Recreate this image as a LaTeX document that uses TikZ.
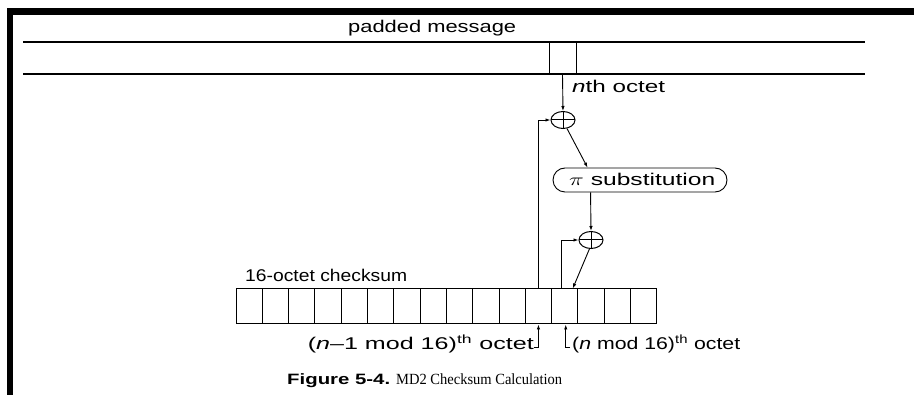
\documentclass[tikz,border=0pt]{standalone}
\usepackage{fontspec}
\setmainfont{Liberation Sans}
\newfontfamily\capserif{Liberation Serif}
\usetikzlibrary{arrows.meta,shapes.geometric,calc}
\newcommand\fitw[2]{\resizebox{#1}{\height}{#2}}
\tikzset{
  ln/.style={line width=1.1pt},
  conn/.style={line width=0.9pt,-{Latex[length=5pt,width=3.5pt]}},
  txt/.style={inner sep=0pt,font=\fontsize{17}{20}\selectfont},
  xorsym/.style={ellipse,draw,line width=1pt,inner sep=0pt,minimum width=24pt,minimum height=17pt,
    path picture={\draw[line width=1pt] (path picture bounding box.north) -- (path picture bounding box.south)
      (path picture bounding box.west) -- (path picture bounding box.east);}},
  cell/.style={rectangle,draw,line width=1pt,inner sep=0pt,minimum width=26.3pt,minimum height=35pt},
  subst/.style={rectangle,draw,line width=0.9pt,rounded corners=12pt,inner sep=0pt,minimum width=174pt,minimum height=24pt},
}
\begin{document}
\begin{tikzpicture}[x=1pt,y=-1pt]
\useasboundingbox (0,0) rectangle (914,395);
% frame
\fill[black] (7,8) rectangle (914,15);
\fill[black] (7,8) rectangle (13,395);
% padded message
\coordinate (mtl) at (23,42);
\coordinate (mtr) at (865,42);
\coordinate (mbl) at (23,74);
\coordinate (mbr) at (865,74);
\draw[ln] (mtl) -- (mtr);
\draw[ln] (mbl) -- (mbr);
\node[rectangle,draw,line width=1pt,inner sep=0pt,minimum width=27pt,minimum height=32pt] (oct) at (562.5,58) {};
\node[txt,anchor=base west] (pm) at (348,33) {\fitw{168pt}{padded message}};
\node[txt,anchor=base west] (nth) at (572,93) {\fitw{93pt}{\textit{n}th octet}};
% xor 1
\node[xorsym] (x1) at (563,120) {};
% substitution
\node[subst] (pi) at (640,180) {};
\node[txt,anchor=base west] (pit) at (569,186) {\fitw{146pt}{$\pi$ substitution}};
% xor 2
\node[xorsym] (x2) at (591,240) {};
% checksum
\foreach \i in {1,...,16} {
  \node[cell] (c\i) at ({236+26.3*(\i-0.5)},306.5) {};
}
\node[txt,anchor=base west] (cs) at (245,282) {\fitw{162pt}{16-octet checksum}};
% labels
\node[txt,anchor=base east] (l1) at (534,350) {\fitw{226pt}{(\textit{n}–1 mod 16)\textsuperscript{th} octet}};
\node[txt,anchor=base west] (l2) at (572,350) {\fitw{168pt}{(\textit{n} mod 16)\textsuperscript{th} octet}};
% caption
\node[inner sep=0pt,anchor=base west] (fig) at (287,385) {\fitw{103pt}{\fontsize{15}{18}\selectfont\bfseries Figure 5-4.}};
\node[inner sep=0pt,anchor=base west] (cap) at (396,385) {\fitw{166pt}{\fontsize{15.5}{18}\selectfont\capserif MD2 Checksum Calculation}};
% connectors
\draw[conn] (oct.south) -- (x1.north);
\draw[conn] (c12.north) |- (x1.west);
\draw[conn] (x1.-65) -- ([xshift=35pt]pi.north west);
\draw[conn] ([xshift=38pt]pi.south west) -- (x2.north);
\draw[conn] ([xshift=-3pt]c13.north) |- (x2.west);
\draw[conn] (x2.-100) -- ([xshift=8pt]c13.north);
\draw[conn] ([yshift=-3pt]l1.east) -| (c12.south);
\draw[conn] ([yshift=-3pt,xshift=-2pt]l2.west) -| ([xshift=1pt]c13.south);
\end{tikzpicture}
\end{document}
